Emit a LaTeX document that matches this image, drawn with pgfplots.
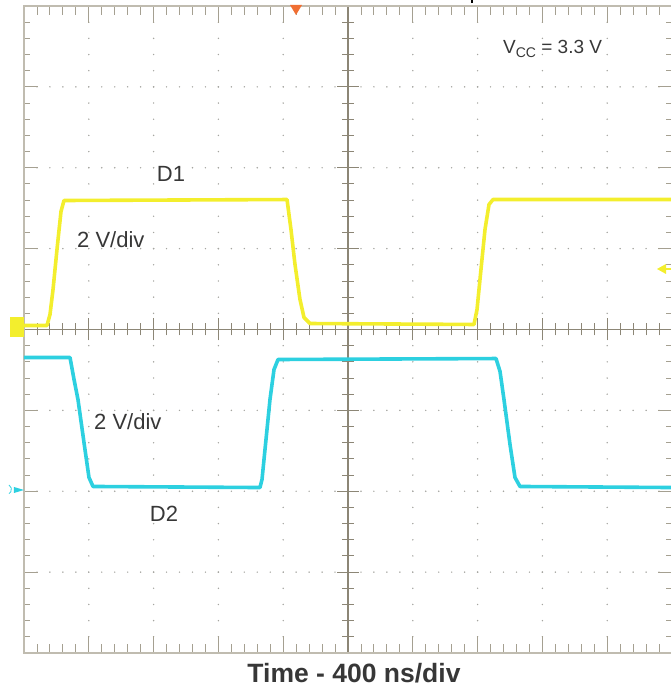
\documentclass[border=0pt]{standalone}
\usepackage{pgfplots}
\pgfplotsset{compat=1.18}
\usepackage{fontspec}
\setmainfont{Liberation Sans}
\definecolor{bordercol}{RGB}{192,188,176}
\definecolor{tickcol}{RGB}{165,160,145}
\definecolor{centercol}{RGB}{140,134,118}
\definecolor{griddot}{RGB}{165,165,160}
\definecolor{yellowtr}{RGB}{243,238,45}
\definecolor{cyantr}{RGB}{45,208,224}
\definecolor{txt}{RGB}{55,55,55}
\definecolor{trig}{RGB}{240,110,50}
\begin{document}
\begin{tikzpicture}
\useasboundingbox (-24pt,-37pt) rectangle (647pt,653pt);
\clip (-24pt,-37pt) rectangle (647pt,653pt);
\begin{scope}[x=64.8pt,y=80.875pt,yshift=323.5pt]
  % grid dots on major horizontal lines
  \foreach \j in {-3,-2,-1,1,2,3}{
    \foreach \i in {1,...,49}{
      \fill[griddot] (\i*0.2,\j) circle (0.8pt);
    }
  }
  % grid dots on major vertical lines
  \foreach \i in {1,2,3,4,6,7,8,9}{
    \foreach \j in {1,...,39}{
      \fill[griddot] (\i,-4+\j*0.2) circle (0.8pt);
    }
  }
  % border ticks top / bottom
  \foreach \i in {0,...,50}{
    \draw[tickcol,line width=0.9pt] (\i*0.2,4) -- ++(0,-9pt);
    \draw[tickcol,line width=0.9pt] (\i*0.2,-4) -- ++(0,9pt);
  }
  \foreach \i in {0,...,10}{
    \draw[tickcol,line width=1.1pt] (\i,4) -- ++(0,-17pt);
    \draw[tickcol,line width=1.1pt] (\i,-4) -- ++(0,17pt);
  }
  % border ticks left / right
  \foreach \j in {0,...,40}{
    \draw[tickcol,line width=0.9pt] (0,-4+\j*0.2) -- ++(6pt,0);
    \draw[tickcol,line width=0.9pt] (10,-4+\j*0.2) -- ++(-6pt,0);
  }
  \foreach \j in {-4,...,4}{
    \draw[tickcol,line width=1.1pt] (0,\j) -- ++(14pt,0);
    \draw[tickcol,line width=1.1pt] (10,\j) -- ++(-14pt,0);
  }
  % centre lines
  \draw[centercol,line width=1.2pt] (0,0) -- (10,0);
  \draw[centercol,line width=1.2pt] (5,-4) -- (5,4);
  \foreach \i in {1,...,49}{
    \draw[centercol,line width=0.9pt] (\i*0.2,0) ++(0,-6pt) -- ++(0,12pt);
  }
  \foreach \i in {1,...,9}{
    \draw[centercol,line width=1.1pt] (\i,0) ++(0,-11pt) -- ++(0,22pt);
  }
  \foreach \j in {1,...,39}{
    \draw[centercol,line width=0.9pt] (5,-4+\j*0.2) ++(-6pt,0) -- ++(12pt,0);
  }
  \foreach \j in {-3,...,3}{
    \draw[centercol,line width=1.1pt] (5,\j) ++(-11pt,0) -- ++(22pt,0);
  }
\end{scope}
\begin{axis}[at={(0pt,0pt)},anchor=south west,scale only axis,
  width=648pt,height=647pt,xmin=0,xmax=10,ymin=-4,ymax=4,
  xtick=\empty,ytick=\empty,
  axis line style={bordercol,line width=1.3pt}]
\addplot[yellowtr,line width=3.6pt,line join=round] coordinates {
(0,0.05) (0.355,0.05) (0.401,0.185) (0.448,0.495) (0.509,0.989) (0.571,1.459) (0.617,1.595)
(4.059,1.607) (4.120,1.236) (4.182,0.804) (4.259,0.371) (4.321,0.148) (4.414,0.074)
(6.944,0.062) (6.991,0.247) (7.052,0.742) (7.114,1.236) (7.176,1.546) (7.238,1.607) (10,1.607)};
\addplot[cyantr,line width=3.6pt,line join=round] coordinates {
(0,-0.346) (0.710,-0.346) (0.772,-0.618) (0.833,-0.866) (0.941,-1.484) (1.003,-1.830) (1.065,-1.941)
(3.642,-1.954) (3.673,-1.855) (3.796,-0.866) (3.858,-0.495) (3.920,-0.371)
(7.284,-0.359) (7.346,-0.519) (7.407,-0.866) (7.500,-1.422) (7.577,-1.830) (7.654,-1.941) (10,-1.954)};
\end{axis}
% channel markers
\fill[yellowtr] (-14pt,316pt) rectangle (0pt,336pt);
\fill[cyantr] (-10pt,166pt) -- (0pt,163pt) -- (-10pt,160pt) -- cycle;
\draw[cyantr,line width=0.8pt] (-15pt,168pt) arc (60:-60:5pt);
\fill[trig] (266pt,648pt) -- (278pt,648pt) -- (272pt,638pt) -- cycle;
\draw[black,line width=1.4pt] (448pt,653pt) -- (448pt,650pt);
\fill[yellowtr] (633pt,384pt) -- (642pt,389pt) -- (642pt,379pt) -- cycle;
\draw[yellowtr,line width=2pt] (640pt,384pt) -- (647pt,384pt);
% labels
\node[txt,anchor=base,font=\fontsize{22}{24}\selectfont,inner sep=0pt] at (147pt,471pt) {D1};
\node[txt,anchor=base west,font=\fontsize{22}{24}\selectfont,inner sep=0pt] at (53pt,405pt) {2 V/div};
\node[txt,anchor=base west,font=\fontsize{22}{24}\selectfont,inner sep=0pt] at (70pt,223pt) {2 V/div};
\node[txt,anchor=base,font=\fontsize{22}{24}\selectfont,inner sep=0pt] at (140pt,131pt) {D2};
\node[txt,anchor=base west,font=\fontsize{19}{21}\selectfont,inner sep=0pt] at (479pt,599pt)
  {V\raisebox{-4pt}{\fontsize{14}{14}\selectfont CC} = 3.3 V};
\node[txt,anchor=base,font=\fontsize{26.5}{30}\bfseries,inner sep=0pt] at (330pt,-29pt) {Time - 400 ns/div};
\end{tikzpicture}
\end{document}
